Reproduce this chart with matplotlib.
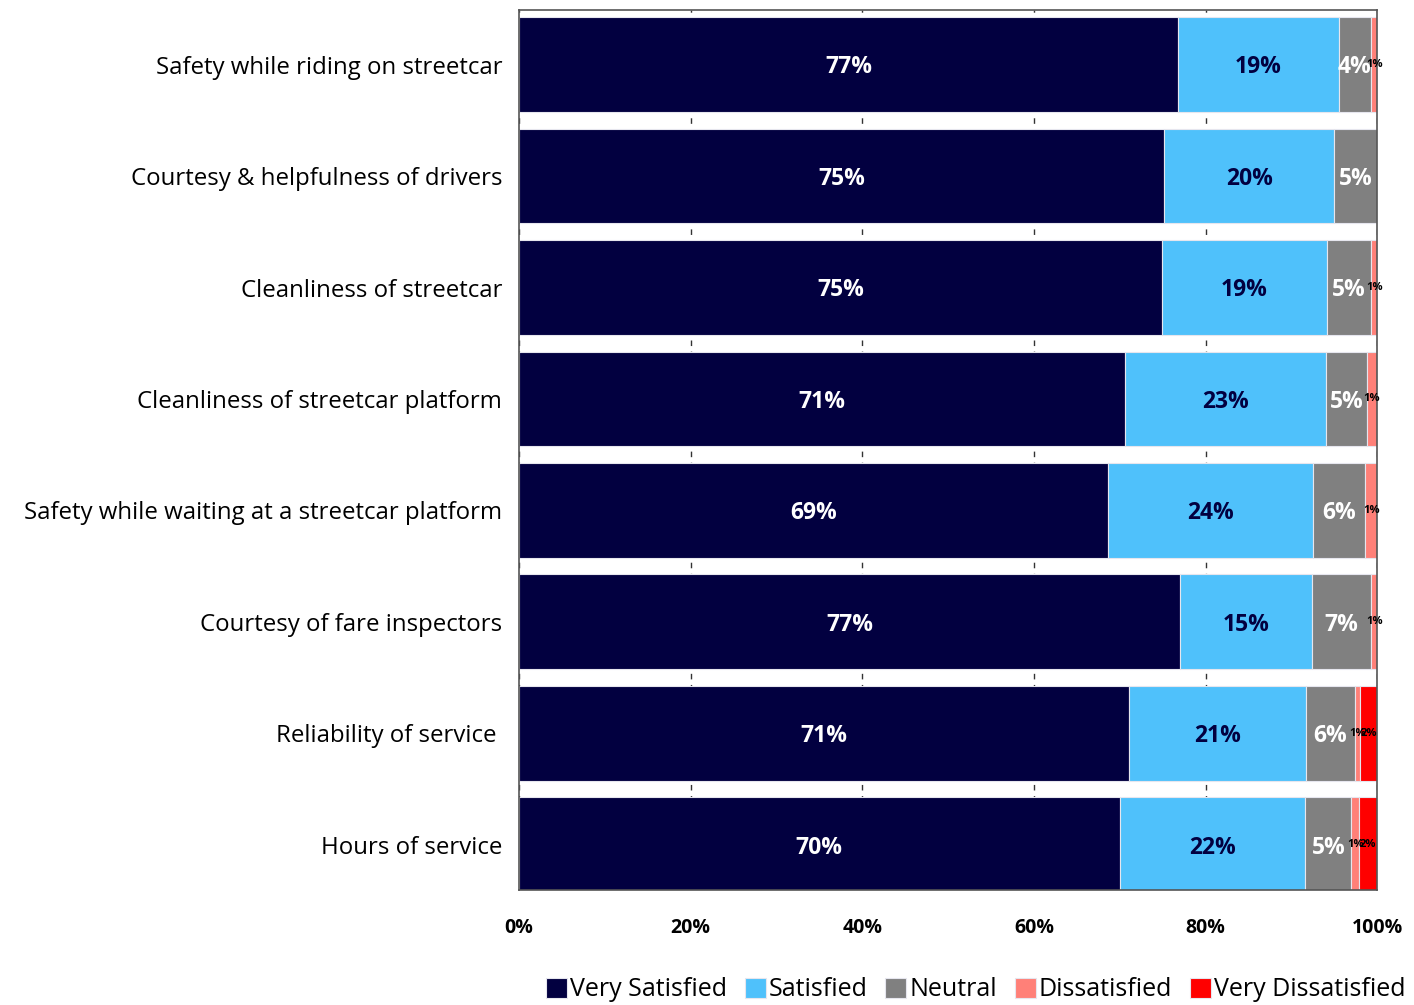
import numpy as np
import matplotlib.pyplot as plt

categories = [
    "Safety while riding on streetcar",
    "Courtesy & helpfulness of drivers",
    "Cleanliness of streetcar",
    "Cleanliness of streetcar platform",
    "Safety while waiting at a streetcar platform",
    "Courtesy of fare inspectors",
    "Reliability of service ",
    "Hours of service",
]
series = ["Very Satisfied", "Satisfied", "Neutral", "Dissatisfied", "Very Dissatisfied"]
very_satisfied = [76.8, 75.2, 74.9, 70.6, 68.6, 77.0, 71.1, 70.0]
satisfied = [18.7, 19.8, 19.2, 23.4, 23.9, 15.4, 20.6, 21.6]
neutral = [3.8, 5.0, 5.2, 4.8, 6.1, 6.9, 5.7, 5.4]
dissatisfied = [0.7, 0.0, 0.7, 1.2, 1.4, 0.7, 0.6, 0.9]
very_dissatisfied = [0.0, 0.0, 0.0, 0.0, 0.0, 0.0, 2.0, 2.1]

colors = ["#020040", "#4fc1fb", "#808080", "#ff8078", "#ff0000"]
text_colors = ["white", "#020040", "white", "black", "black"]

plt.rcParams['font.family'] = ['Open Sans', 'DejaVu Sans']

fig = plt.figure(figsize=(14.14, 10.05), dpi=100)
ax = fig.add_axes([0.367, 0.114, 0.607, 0.876])

y = np.arange(len(categories))
left = np.zeros(len(categories))
data = [very_satisfied, satisfied, neutral, dissatisfied, very_dissatisfied]
for i, (name, vals) in enumerate(zip(series, data)):
    vals = np.array(vals)
    ax.barh(y, vals, left=left, height=0.85, color=colors[i], label=name,
            edgecolor="#e6e6ee", linewidth=0.8, zorder=2)
    for yi, l, v in zip(y, left, vals):
        if v <= 0:
            continue
        lab = f"{v:.0f}%"
        if i < 3:
            ax.text(l + v / 2, yi + 0.025, lab, ha="center", va="center", color=text_colors[i],
                    fontsize=16.5, fontweight="bold", zorder=4)
        else:
            # tiny segments: small black labels, these crowd together at the right edge
            ax.text(l + v / 2, yi, lab, ha="center", va="center", color=text_colors[i],
                    fontsize=8, fontweight="bold", zorder=4)
    left += vals

ax.set_xlim(0, 100)
ax.set_ylim(7.41, -0.49)
ax.set_yticks(y)
ax.set_yticklabels(categories, fontsize=17.3)
ax.set_xticks(np.arange(0, 101, 20))
ax.set_xticklabels([f"{v}%" for v in range(0, 101, 20)], fontsize=14, fontweight="bold")
ax.tick_params(axis="x", length=0, pad=20)
ax.tick_params(axis="y", length=0, pad=12)
ax.xaxis.grid(True, linestyle=(0, (4, 4)), color="#333333", linewidth=1.0, zorder=0)
ax.set_axisbelow(True)
for s in ax.spines.values():
    s.set_color("#555555")
    s.set_linewidth(1.2)

fig.legend(loc="center", bbox_to_anchor=(0.69, 0.015), ncol=5, frameon=False,
           prop={"family": ["Open Sans", "DejaVu Sans"], "size": 18},
           handlelength=0.85, handleheight=0.85, handletextpad=0.12, columnspacing=0.7)

fig.savefig("out.png", dpi=100)
